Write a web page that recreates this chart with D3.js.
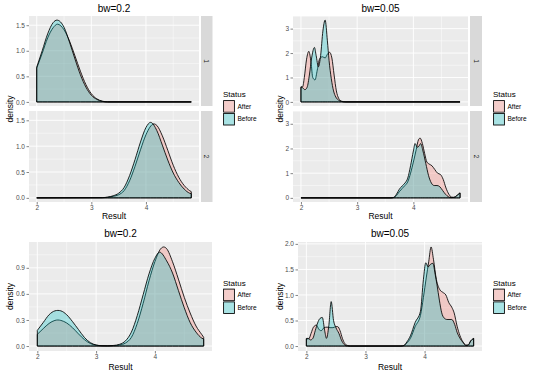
<!DOCTYPE html>
<html lang="en">
<head>
<meta charset="UTF-8">
<title>Result density by Status</title>
<script src="https://d3js.org/d3.v7.min.js"></script>
<style>
  body, html { margin: 0; padding: 0; background: #fff; overflow: hidden; }
  svg { display: block; font-family: "Liberation Sans", Arial, sans-serif; }
</style>
</head>
<body>
<svg id="chart" width="540" height="376"></svg>
<script>
// ---- values ----
const statuses = ["After", "Before"];
const statusColors = ["#F8766D", "#00BFC4"];
const resultTicks = [2, 3, 4];
const resultRange = [2.0, 4.83];

// bw=0.2, facet 1
const tl1AfterX  = [2.0, 2.1, 2.2, 2.3, 2.38, 2.5, 2.6, 2.7, 2.8, 2.9, 3.0, 3.1, 3.2, 3.3, 4.83];
const tl1AfterY  = [0.66, 0.95, 1.25, 1.45, 1.52, 1.41, 1.19, 0.90, 0.60, 0.34, 0.16, 0.06, 0.015, 0, 0];
const tl1BeforeX = [2.0, 2.1, 2.2, 2.3, 2.37, 2.5, 2.6, 2.7, 2.8, 2.9, 3.0, 3.1, 3.2, 3.3, 4.83];
const tl1BeforeY = [0.68, 1.00, 1.33, 1.55, 1.60, 1.46, 1.17, 0.84, 0.53, 0.29, 0.13, 0.05, 0.01, 0, 0];
// bw=0.2, facet 2
const tl2AfterX  = [2.0, 3.2, 3.3, 3.4, 3.5, 3.6, 3.7, 3.8, 3.9, 4.0, 4.145, 4.2, 4.3, 4.4, 4.5, 4.6, 4.7, 4.8, 4.83];
const tl2AfterY  = [0, 0.003, 0.01, 0.03, 0.06, 0.14, 0.33, 0.61, 0.93, 1.22, 1.43, 1.40, 1.20, 0.92, 0.63, 0.40, 0.24, 0.14, 0.12];
const tl2BeforeX = [2.0, 3.2, 3.3, 3.4, 3.5, 3.6, 3.7, 3.8, 3.9, 4.0, 4.085, 4.2, 4.3, 4.4, 4.5, 4.6, 4.7, 4.8, 4.83];
const tl2BeforeY = [0, 0.005, 0.015, 0.04, 0.09, 0.20, 0.43, 0.74, 1.08, 1.36, 1.46, 1.30, 1.02, 0.73, 0.48, 0.30, 0.17, 0.09, 0.08];

// bw=0.05, facet 1
const tr1AfterX  = [2.0, 2.03, 2.06, 2.1, 2.14, 2.18, 2.21, 2.25, 2.29, 2.33, 2.38, 2.43, 2.47, 2.51, 2.55, 2.59, 2.63, 2.67, 2.72, 2.8, 4.83];
const tr1AfterY  = [0.62, 0.62, 1.0, 1.75, 2.07, 1.6, 1.0, 0.9, 1.3, 1.75, 1.85, 1.8, 1.95, 2.03, 1.8, 1.1, 0.45, 0.15, 0.03, 0, 0];
const tr1BeforeX = [2.0, 2.03, 2.07, 2.11, 2.15, 2.19, 2.24, 2.27, 2.31, 2.35, 2.39, 2.43, 2.47, 2.5, 2.54, 2.58, 2.62, 2.67, 2.72, 2.78, 4.83];
const tr1BeforeY = [0.6, 0.58, 0.5, 0.6, 1.1, 1.8, 2.23, 1.9, 1.44, 1.9, 2.9, 3.35, 2.5, 1.7, 0.95, 0.45, 0.2, 0.07, 0.02, 0, 0];
// bw=0.05, facet 2
const tr2AfterX  = [2.0, 3.6, 3.65, 3.7, 3.75, 3.8, 3.85, 3.9, 3.95, 4.0, 4.05, 4.09, 4.12, 4.16, 4.2, 4.24, 4.28, 4.33, 4.38, 4.43, 4.48, 4.53, 4.58, 4.63, 4.68, 4.72, 4.77, 4.8, 4.83];
const tr2AfterY  = [0, 0, 0.01, 0.1, 0.25, 0.38, 0.5, 0.65, 1.0, 1.45, 1.95, 2.35, 2.42, 2.2, 1.8, 1.45, 1.37, 1.3, 1.15, 1.0, 0.95, 0.75, 0.4, 0.15, 0.03, 0.02, 0.08, 0.15, 0.2];
const tr2BeforeX = [2.0, 3.6, 3.65, 3.7, 3.75, 3.8, 3.85, 3.9, 3.95, 4.0, 4.03, 4.07, 4.1, 4.13, 4.17, 4.22, 4.27, 4.32, 4.37, 4.42, 4.47, 4.52, 4.57, 4.62, 4.67, 4.72, 4.77, 4.8, 4.83];
const tr2BeforeY = [0, 0, 0.02, 0.15, 0.35, 0.48, 0.6, 0.8, 1.3, 1.9, 2.2, 2.05, 2.1, 2.2, 1.9, 1.4, 0.9, 0.6, 0.5, 0.5, 0.45, 0.3, 0.15, 0.05, 0.01, 0.02, 0.08, 0.15, 0.2];

// bw=0.2, both groups together
const blAfterX  = [2.0, 2.1, 2.2, 2.3, 2.35, 2.4, 2.5, 2.6, 2.7, 2.8, 2.9, 3.0, 3.1, 3.2, 3.3, 3.4, 3.5, 3.6, 3.7, 3.8, 3.9, 4.0, 4.1, 4.15, 4.2, 4.3, 4.4, 4.5, 4.6, 4.7, 4.8, 4.83];
const blAfterY  = [0.135, 0.2, 0.26, 0.295, 0.3, 0.295, 0.265, 0.21, 0.14, 0.075, 0.03, 0.01, 0.003, 0.002, 0.004, 0.012, 0.035, 0.1, 0.26, 0.49, 0.75, 0.97, 1.12, 1.14, 1.12, 0.97, 0.77, 0.56, 0.38, 0.23, 0.13, 0.1];
const blBeforeX = [2.0, 2.1, 2.2, 2.3, 2.35, 2.4, 2.5, 2.6, 2.7, 2.8, 2.9, 3.0, 3.1, 3.2, 3.3, 3.4, 3.5, 3.6, 3.7, 3.8, 3.9, 4.0, 4.08, 4.2, 4.3, 4.4, 4.5, 4.6, 4.7, 4.8, 4.83];
const blBeforeY = [0.18, 0.27, 0.36, 0.405, 0.41, 0.405, 0.36, 0.28, 0.19, 0.1, 0.04, 0.012, 0.004, 0.003, 0.007, 0.02, 0.06, 0.16, 0.35, 0.59, 0.83, 1.01, 1.08, 0.98, 0.84, 0.64, 0.44, 0.27, 0.16, 0.09, 0.08];

// bw=0.05, both groups together
const brAfterX  = [2.0, 2.04, 2.08, 2.12, 2.17, 2.21, 2.25, 2.3, 2.35, 2.4, 2.45, 2.5, 2.53, 2.57, 2.61, 2.65, 2.7, 2.75, 3.6, 3.65, 3.7, 3.76, 3.84, 3.93, 3.98, 4.03, 4.07, 4.11, 4.15, 4.2, 4.26, 4.31, 4.36, 4.41, 4.46, 4.5, 4.55, 4.6, 4.65, 4.7, 4.74, 4.78, 4.83];
const brAfterY  = [0.14, 0.14, 0.25, 0.37, 0.41, 0.33, 0.3, 0.36, 0.37, 0.36, 0.36, 0.38, 0.38, 0.3, 0.15, 0.05, 0.01, 0, 0, 0.01, 0.06, 0.15, 0.38, 0.6, 0.95, 1.35, 1.65, 1.94, 1.7, 1.3, 1.1, 1.05, 1.0, 0.85, 0.76, 0.65, 0.39, 0.2, 0.08, 0.02, 0.02, 0.1, 0.15];
const brBeforeX = [2.0, 2.03, 2.07, 2.11, 2.15, 2.19, 2.23, 2.27, 2.31, 2.34, 2.38, 2.42, 2.46, 2.5, 2.55, 2.6, 2.65, 2.7, 3.6, 3.65, 3.7, 3.76, 3.84, 3.93, 3.98, 4.02, 4.06, 4.1, 4.14, 4.18, 4.21, 4.25, 4.29, 4.33, 4.38, 4.46, 4.51, 4.55, 4.6, 4.65, 4.7, 4.74, 4.78, 4.83];
const brBeforeY = [0.15, 0.15, 0.12, 0.15, 0.3, 0.45, 0.54, 0.56, 0.3, 0.15, 0.4, 0.87, 0.5, 0.36, 0.25, 0.1, 0.02, 0, 0, 0.01, 0.08, 0.2, 0.46, 0.68, 1.3, 1.63, 1.55, 1.6, 1.62, 1.4, 1.2, 0.9, 0.65, 0.55, 0.52, 0.52, 0.42, 0.27, 0.15, 0.07, 0.01, 0.02, 0.1, 0.15];

const tlYTicks = [0, 0.5, 1.0, 1.5];
const trYTicks = [0, 1, 2, 3];
const blYTicks = [0, 0.3, 0.6, 0.9];
const brYTicks = [0, 0.5, 1.0, 1.5, 2.0];

// ---- layout ----
const svg = d3.select("#chart");
const FONT_TICK = 6.5;
const FILL_ALPHA = 0.3;

function pairs(xs, ys) { return xs.map((v, i) => ({ x: v, y: ys[i] })); }

function expand(d) {
    const pad = (d[1] - d[0]) * 0.05;
    return [d[0] - pad, d[1] + pad];
}

function minorBreaks(ticks, dom) {
    const step = ticks[1] - ticks[0];
    const out = [];
    for (let v = ticks[0] - step / 2; v <= dom[1]; v += step) {
        if (v >= dom[0]) out.push(v);
    }
    return out;
}

function drawPlot(p) {
    const g = svg.append("g");
    const x = d3.scaleLinear().domain(expand(resultRange)).range([p.left, p.right]);
    const yMax = d3.max(p.facets.flatMap(f => f.series.flatMap(s => s.map(d => d.y))));
    const yDom = [-0.05 * yMax, 1.05 * yMax];
    const xMinor = minorBreaks(resultTicks, x.domain());
    const yMinor = minorBreaks(p.yTicks, yDom);

    p.facets.forEach((f, fi) => {
        const y = d3.scaleLinear().domain(yDom).range([f.bottom, f.top]);
        const pg = g.append("g");

        pg.append("rect")
            .attr("x", p.left).attr("y", f.top)
            .attr("width", p.right - p.left).attr("height", f.bottom - f.top)
            .attr("fill", "#EBEBEB");

        // grid
        pg.selectAll(".xminor").data(xMinor).join("line")
            .attr("x1", d => x(d)).attr("x2", d => x(d))
            .attr("y1", f.top).attr("y2", f.bottom)
            .attr("stroke", "#fff").attr("stroke-width", 0.45);
        pg.selectAll(".yminor").data(yMinor).join("line")
            .attr("y1", d => y(d)).attr("y2", d => y(d))
            .attr("x1", p.left).attr("x2", p.right)
            .attr("stroke", "#fff").attr("stroke-width", 0.45);
        pg.selectAll(".xmajor").data(resultTicks).join("line")
            .attr("x1", d => x(d)).attr("x2", d => x(d))
            .attr("y1", f.top).attr("y2", f.bottom)
            .attr("stroke", "#fff").attr("stroke-width", 0.9);
        pg.selectAll(".ymajor").data(p.yTicks).join("line")
            .attr("y1", d => y(d)).attr("y2", d => y(d))
            .attr("x1", p.left).attr("x2", p.right)
            .attr("stroke", "#fff").attr("stroke-width", 0.9);

        // densities: After first, Before on top
        const area = d3.area()
            .x(d => x(d.x)).y0(y(0)).y1(d => y(d.y))
            .curve(d3.curveMonotoneX);
        f.series.forEach((s, si) => {
            pg.append("path")
                .attr("d", area(s))
                .attr("fill", statusColors[si]).attr("fill-opacity", FILL_ALPHA)
                .attr("stroke", "#000").attr("stroke-width", 0.85)
                .attr("stroke-linejoin", "round");
        });

        // y axis
        const ya = pg.append("g")
            .attr("transform", `translate(${p.left},0)`)
            .call(d3.axisLeft(y).tickValues(p.yTicks).tickSize(2.5).tickPadding(1.5).tickFormat(d3.format(p.yFmt)));
        ya.select(".domain").remove();
        ya.selectAll("line").attr("stroke", "#333").attr("stroke-width", 0.6);
        ya.selectAll("text").attr("fill", "#4D4D4D").style("font-size", FONT_TICK + "px")
            .style("font-family", "'Liberation Sans', Arial, sans-serif");

        // strip
        if (f.strip) {
            pg.append("rect")
                .attr("x", p.stripX).attr("y", f.top)
                .attr("width", p.stripW).attr("height", f.bottom - f.top)
                .attr("fill", "#D9D9D9");
            pg.append("text")
                .attr("transform", `translate(${p.stripX + p.stripW / 2},${(f.top + f.bottom) / 2}) rotate(90)`)
                .attr("text-anchor", "middle").attr("dy", "0.35em")
                .attr("fill", "#1A1A1A").style("font-size", "6.5px")
                .text(f.strip);
        }

        // x axis on the bottom facet only
        if (fi === p.facets.length - 1) {
            const xa = pg.append("g")
                .attr("transform", `translate(0,${f.bottom})`)
                .call(d3.axisBottom(x).tickValues(resultTicks).tickSize(2.5).tickPadding(1.2).tickFormat(d3.format("d")));
            xa.select(".domain").remove();
            xa.selectAll("line").attr("stroke", "#333").attr("stroke-width", 0.6);
            xa.selectAll("text").attr("fill", "#4D4D4D").style("font-size", FONT_TICK + "px")
                .style("font-family", "'Liberation Sans', Arial, sans-serif");
        }
    });

    const top = p.facets[0].top;
    const bottom = p.facets[p.facets.length - 1].bottom;
    const cx = (p.left + p.right) / 2;

    g.append("text").attr("x", cx).attr("y", p.titleY)
        .attr("text-anchor", "middle").style("font-size", "10px").text(p.title);
    g.append("text").attr("x", cx).attr("y", p.xTitleY)
        .attr("text-anchor", "middle").style("font-size", "8.5px").text("Result");
    g.append("text")
        .attr("transform", `translate(${p.yTitleX},${(top + bottom) / 2}) rotate(-90)`)
        .attr("text-anchor", "middle").style("font-size", "8.5px").text("density");

    // legend
    const lg = g.append("g").attr("transform", `translate(${p.legendX},${p.legendY})`);
    lg.append("text").attr("x", 0).attr("y", 0).style("font-size", "8px").text("Status");
    statuses.forEach((s, i) => {
        const ky = 3 + i * 12.8;
        lg.append("rect").attr("x", 0).attr("y", ky).attr("width", 12).attr("height", 12.8).attr("fill", "#F2F2F2");
        lg.append("rect").attr("x", 0.6).attr("y", ky + 0.6).attr("width", 10.8).attr("height", 11.6)
            .attr("fill", statusColors[i]).attr("fill-opacity", FILL_ALPHA)
            .attr("stroke", "#000").attr("stroke-width", 0.85);
        lg.append("text").attr("x", 14.5).attr("y", ky + 6.4).attr("dy", "0.35em")
            .style("font-size", "6.5px").text(s);
    });
}

drawPlot({
    left: 29, right: 199, stripX: 201, stripW: 11.5,
    facets: [
        { top: 16, bottom: 106, strip: "1", series: [pairs(tl1AfterX, tl1AfterY), pairs(tl1BeforeX, tl1BeforeY)] },
        { top: 111, bottom: 202, strip: "2", series: [pairs(tl2AfterX, tl2AfterY), pairs(tl2BeforeX, tl2BeforeY)] }
    ],
    yTicks: tlYTicks, yFmt: ".1f", title: "bw=0.2",
    titleY: 12, xTitleY: 219, yTitleX: 13, legendX: 223, legendY: 97
});

drawPlot({
    left: 293, right: 468, stripX: 470, stripW: 12,
    facets: [
        { top: 16, bottom: 106, strip: "1", series: [pairs(tr1AfterX, tr1AfterY), pairs(tr1BeforeX, tr1BeforeY)] },
        { top: 111, bottom: 202, strip: "2", series: [pairs(tr2AfterX, tr2AfterY), pairs(tr2BeforeX, tr2BeforeY)] }
    ],
    yTicks: trYTicks, yFmt: "d", title: "bw=0.05",
    titleY: 12, xTitleY: 219, yTitleX: 283, legendX: 493, legendY: 97
});

drawPlot({
    left: 29, right: 212,
    facets: [
        { top: 242, bottom: 351, series: [pairs(blAfterX, blAfterY), pairs(blBeforeX, blBeforeY)] }
    ],
    yTicks: blYTicks, yFmt: ".1f", title: "bw=0.2",
    titleY: 237, xTitleY: 370, yTitleX: 13, legendX: 223, legendY: 285.5
});

drawPlot({
    left: 298, right: 482,
    facets: [
        { top: 242, bottom: 351, series: [pairs(brAfterX, brAfterY), pairs(brBeforeX, brBeforeY)] }
    ],
    yTicks: brYTicks, yFmt: ".1f", title: "bw=0.05",
    titleY: 237, xTitleY: 370, yTitleX: 283, legendX: 493, legendY: 285.5
});
</script>
</body>
</html>
